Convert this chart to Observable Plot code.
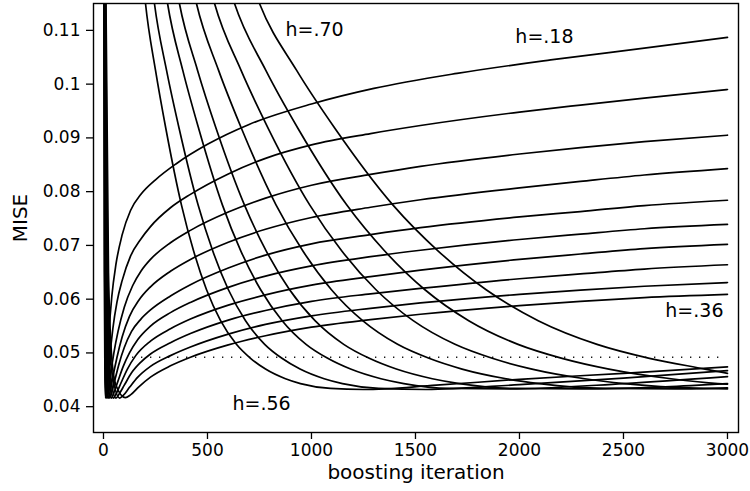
<!DOCTYPE html>
<html>
<head>
<meta charset="utf-8">
<script src="https://cdn.jsdelivr.net/npm/d3@7"></script>
<script src="https://cdn.jsdelivr.net/npm/@observablehq/plot@0.6"></script>
<style>
  html, body { margin: 0; padding: 0; background: #fff; }
  #chart svg { display: block; }
</style>
</head>
<body>
<div id="chart"></div>
<script>
// ---- axes ----
const xTicks = [0, 500, 1000, 1500, 2000, 2500, 3000];
const yTicks = [0.04, 0.05, 0.06, 0.07, 0.08, 0.09, 0.10, 0.11];
const yTickLabels = ["0.04", "0.05", "0.06", "0.07", "0.08", "0.09", "0.1", "0.11"];
const xTitle = "boosting iteration";
const yTitle = "MISE";

// ---- curves: [boosting iteration, MISE] ----
const h18 = [[0,0.30],[2,0.115],[4,0.065],[7,0.045],[10,0.0416],[15,0.0455],[25,0.0530],[40,0.0605],[60,0.0665],[90,0.0720],[130,0.0765],[180,0.0795],[250,0.0822],[350,0.0852],[500,0.0888],[700,0.0925],[1000,0.0963],[1300,0.0992],[1700,0.1020],[2150,0.1045],[2600,0.1067],[3000,0.1087]];
const h20 = [[0,0.30],[3,0.115],[6,0.065],[9,0.046],[14,0.0416],[20,0.0440],[30,0.0490],[45,0.0545],[65,0.0595],[90,0.0635],[130,0.0680],[180,0.0712],[226,0.0735],[322,0.0770],[418,0.0795],[600,0.0833],[779,0.0862],[1000,0.0887],[1284,0.0908],[1524,0.0923],[2000,0.0948],[2293,0.0961],[2600,0.0974],[3000,0.0990]];
const h22 = [[0,0.30],[4,0.115],[8,0.065],[12,0.046],[18,0.0416],[25,0.0432],[35,0.0462],[50,0.0500],[70,0.0540],[100,0.0585],[140,0.0625],[180,0.0652],[226,0.0674],[322,0.0705],[418,0.0728],[600,0.0762],[779,0.0788],[1000,0.0812],[1284,0.0832],[1524,0.0847],[2000,0.0870],[2293,0.0882],[2600,0.0893],[3000,0.0905]];
const h24 = [[0,0.30],[5,0.115],[10,0.065],[15,0.047],[24,0.0416],[32,0.0428],[45,0.0455],[65,0.0492],[90,0.0530],[125,0.0568],[170,0.0598],[226,0.0623],[322,0.0652],[418,0.0674],[600,0.0706],[779,0.0730],[1000,0.0752],[1284,0.0771],[1524,0.0785],[2000,0.0807],[2293,0.0819],[2600,0.0831],[3000,0.0843]];
const h26 = [[0,0.30],[6,0.115],[12,0.065],[19,0.047],[30,0.0416],[40,0.0427],[55,0.0450],[75,0.0480],[100,0.0510],[135,0.0540],[180,0.0563],[226,0.0580],[322,0.0606],[418,0.0627],[600,0.0658],[779,0.0682],[1000,0.0703],[1284,0.0720],[1524,0.0733],[2000,0.0753],[2293,0.0763],[2600,0.0774],[3000,0.0784]];
const h28 = [[0,0.30],[7,0.115],[14,0.065],[23,0.047],[38,0.0416],[50,0.0426],[70,0.0448],[95,0.0475],[125,0.0500],[165,0.0525],[226,0.0550],[322,0.0575],[418,0.0594],[600,0.0622],[779,0.0643],[1000,0.0662],[1284,0.0679],[1524,0.0691],[2000,0.0711],[2293,0.0721],[2600,0.0731],[3000,0.0739]];
const h30 = [[0,0.30],[8,0.115],[16,0.065],[27,0.047],[48,0.0416],[62,0.0425],[85,0.0445],[115,0.0470],[155,0.0495],[226,0.0522],[322,0.0545],[418,0.0563],[600,0.0589],[779,0.0608],[1000,0.0626],[1284,0.0642],[1524,0.0654],[2000,0.0674],[2293,0.0684],[2600,0.0694],[3000,0.0702]];
const h32 = [[0,0.30],[9,0.115],[18,0.065],[31,0.047],[60,0.0416],[76,0.0424],[100,0.0440],[135,0.0463],[180,0.0483],[226,0.0498],[322,0.0519],[418,0.0536],[600,0.0561],[779,0.0579],[1000,0.0596],[1284,0.0610],[1524,0.0620],[2000,0.0638],[2293,0.0647],[2600,0.0656],[3000,0.0664]];
const h34 = [[0,0.30],[10,0.115],[20,0.065],[35,0.048],[78,0.0416],[95,0.0421],[125,0.0436],[165,0.0455],[226,0.0475],[322,0.0495],[418,0.0511],[600,0.0535],[779,0.0553],[1000,0.0569],[1284,0.0583],[1524,0.0593],[2000,0.0609],[2293,0.0617],[2600,0.0624],[3000,0.0631]];
const h36 = [[0,0.30],[12,0.115],[24,0.065],[40,0.049],[60,0.0440],[105,0.0417],[130,0.0422],[170,0.0437],[226,0.0455],[322,0.0476],[418,0.0492],[600,0.0515],[779,0.0532],[1000,0.0548],[1284,0.0562],[1524,0.0572],[2000,0.0588],[2293,0.0596],[2600,0.0603],[3000,0.0609]];
const h56 = [[150,0.14],[202,0.115],[250,0.1026],[300,0.0917],[375,0.0775],[433,0.0690],[495,0.0618],[563,0.0560],[639,0.0516],[707,0.0490],[779,0.0470],[875,0.0452],[947,0.0443],[1091,0.0434],[1250,0.0432],[1600,0.0440],[2000,0.0451],[2500,0.0462],[3000,0.0474]];
const h58 = [[182,0.14],[245,0.115],[303,0.1026],[364,0.0917],[455,0.0775],[525,0.0690],[600,0.0618],[683,0.0560],[775,0.0516],[858,0.0490],[945,0.0470],[1061,0.0452],[1149,0.0443],[1323,0.0434],[1550,0.0432],[2000,0.0441],[2500,0.0453],[3000,0.0467]];
const h60 = [[229,0.14],[308,0.115],[381,0.1026],[458,0.0917],[572,0.0775],[660,0.0690],[755,0.0618],[859,0.0560],[974,0.0516],[1078,0.0490],[1188,0.0470],[1334,0.0452],[1444,0.0443],[1664,0.0434],[1950,0.0433],[2500,0.0443],[3000,0.0456]];
const h62 = [[271,0.14],[365,0.115],[452,0.1026],[542,0.0917],[678,0.0775],[782,0.0690],[894,0.0618],[1017,0.0560],[1155,0.0516],[1278,0.0490],[1408,0.0470],[1581,0.0452],[1711,0.0443],[1971,0.0434],[2300,0.0433],[2700,0.0437],[3000,0.0443]];
const h64 = [[332,0.14],[447,0.115],[553,0.1026],[664,0.0917],[830,0.0775],[958,0.0690],[1095,0.0618],[1246,0.0560],[1414,0.0516],[1565,0.0490],[1724,0.0470],[1936,0.0452],[2096,0.0443],[2414,0.0434],[2750,0.0433],[3000,0.0435]];
const h66 = [[397,0.14],[534,0.115],[661,0.1026],[793,0.0917],[992,0.0775],[1145,0.0690],[1309,0.0618],[1489,0.0560],[1690,0.0516],[1869,0.0490],[2060,0.0470],[2314,0.0452],[2504,0.0443],[2884,0.0434],[3000,0.0433]];
const h68 = [[468,0.14],[630,0.115],[780,0.1026],[936,0.0917],[1170,0.0775],[1351,0.0690],[1544,0.0618],[1756,0.0560],[1993,0.0516],[2205,0.0490],[2430,0.0470],[2729,0.0452],[2954,0.0443],[3000,0.0442]];
const h70 = [[557,0.14],[750,0.115],[928,0.1026],[1114,0.0917],[1392,0.0775],[1608,0.0690],[1838,0.0618],[2090,0.0560],[2373,0.0516],[2625,0.0490],[2892,0.0470],[3000,0.0462]];

const curveNames = [".18",".20",".22",".24",".26",".28",".30",".32",".34",".36",".56",".58",".60",".62",".64",".66",".68",".70"];
const curveData = [h18,h20,h22,h24,h26,h28,h30,h32,h34,h36,h56,h58,h60,h62,h64,h66,h68,h70];

// ---- reference level (dotted) ----
const refLevel = [0.0492];
const refStart = [140];
const refEnd = [2960];

// ---- annotations ----
const annLabels = ["h=.70", "h=.18", "h=.36", "h=.56"];
const annX = [1015, 2120, 2841, 760];
const annY = [0.1100, 0.1087, 0.0579, 0.0406];

// ---- build tables ----
const rows = [];
curveData.forEach((pts, i) => pts.forEach(([it, m]) => rows.push({h: curveNames[i], iteration: it, mise: m})));
const refRows = refLevel.map((v, i) => ({y: v, x1: refStart[i], x2: refEnd[i]}));
const annRows = annLabels.map((t, i) => ({text: t, x: annX[i], y: annY[i]}));

const chart = Plot.plot({
  width: 750,
  height: 491,
  marginLeft: 93,
  marginRight: 12,
  marginTop: 3,
  marginBottom: 59,
  style: {fontFamily: "DejaVu Sans", fontSize: "17px", background: "white", color: "black"},
  x: {domain: [-48, 3053]},
  y: {domain: [0.0352, 0.115]},
  marks: [
    Plot.ruleY(refRows, {y: "y", x1: "x1", x2: "x2", stroke: "black", strokeWidth: 1.3, strokeDasharray: "1.2,7.8"}),
    Plot.line(rows, {x: "iteration", y: "mise", z: "h", curve: "monotone-x", clip: true, stroke: "black", strokeWidth: 1.7}),
    Plot.frame({stroke: "black", strokeWidth: 1.4}),
    Plot.axisX({ticks: xTicks, tickSize: 7, tickPadding: 4, tickFormat: d => String(d), label: null, fontSize: 17, strokeWidth: 1.3}),
    Plot.axisY({ticks: yTicks, tickSize: 7, tickPadding: 6, tickFormat: (d, i) => yTickLabels[i], label: null, fontSize: 17, strokeWidth: 1.3}),
    Plot.text([xTitle], {frameAnchor: "bottom", lineAnchor: "middle", textAnchor: "middle", dy: 40, fontSize: 20, fill: "black"}),
    Plot.text([yTitle], {frameAnchor: "left", lineAnchor: "middle", textAnchor: "middle", rotate: -90, dx: -73, fontSize: 20, fill: "black"}),
    Plot.text(annRows, {x: "x", y: "y", text: "text", fontSize: 19, fill: "black"})
  ]
});
document.getElementById("chart").append(chart);
</script>
</body>
</html>
